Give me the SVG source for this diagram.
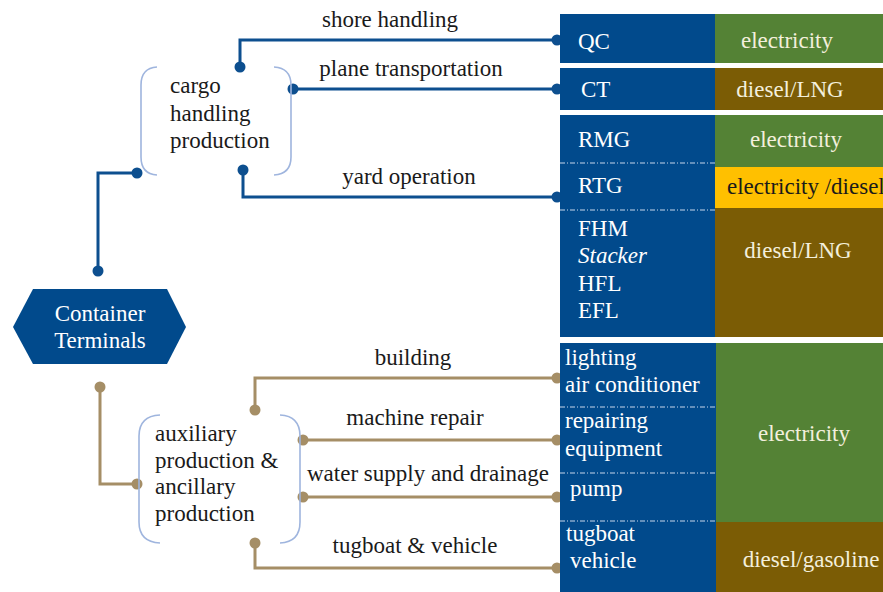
<svg xmlns="http://www.w3.org/2000/svg" width="883" height="592" viewBox="0 0 883 592">
<style>
text{font-family:"Liberation Serif","Times New Roman",serif;font-size:23px}
.lbl{fill:#1a1a1a}
.w{fill:#ffffff}
.cr{fill:#f3efdc}
.dk{fill:#1a1a1a}
.bl{fill:none;stroke:#0d4f8f;stroke-width:3}
.tn{fill:none;stroke:#a58e66;stroke-width:3}
.bd{fill:#0d4f8f}
.td{fill:#a58e66}
.br{fill:none;stroke:#9fb5de;stroke-width:1.6}
.cb{fill:#014a8c}
.cg{fill:#548235}
.cn{fill:#7b5c05}
.cy{fill:#ffc000}
.dash{stroke:#c9d6ea;stroke-width:1;stroke-dasharray:5 2 1 2}
</style>
<g id="connectors">
<path class="bl" d="M98,271 V173 H137"/>
<path class="bl" d="M240,67 V40 H557"/>
<path class="bl" d="M293,89 H557"/>
<path class="bl" d="M243,170 V197 H557"/>
<circle class="bd" cx="98" cy="271" r="5.5"/>
<circle class="bd" cx="137" cy="173" r="5.5"/>
<circle class="bd" cx="240" cy="67" r="5.5"/>
<circle class="bd" cx="293" cy="89" r="5.5"/>
<circle class="bd" cx="243" cy="170" r="5.5"/>
<circle class="bd" cx="557" cy="40" r="5.5"/>
<circle class="bd" cx="557" cy="89" r="5.5"/>
<circle class="bd" cx="557" cy="197" r="5.5"/>
<path class="tn" d="M100,387 V484 H137"/>
<path class="tn" d="M255,410 V378 H557"/>
<path class="tn" d="M303,440 H557"/>
<path class="tn" d="M303,497 H557"/>
<path class="tn" d="M255,543 V568 H557"/>
<circle class="td" cx="100" cy="387" r="5.5"/>
<circle class="td" cx="137" cy="484" r="5.5"/>
<circle class="td" cx="255" cy="410" r="5.5"/>
<circle class="td" cx="303" cy="440" r="5.5"/>
<circle class="td" cx="303" cy="497" r="5.5"/>
<circle class="td" cx="255" cy="543" r="5.5"/>
<circle class="td" cx="557" cy="378" r="5.5"/>
<circle class="td" cx="557" cy="440" r="5.5"/>
<circle class="td" cx="557" cy="497" r="5.5"/>
<circle class="td" cx="557" cy="568" r="5.5"/>
<text class="lbl" x="390" y="27" text-anchor="middle">shore handling</text>
<text class="lbl" x="411" y="76" text-anchor="middle">plane  transportation</text>
<text class="lbl" x="409" y="184" text-anchor="middle">yard operation</text>
<text class="lbl" x="413" y="365" text-anchor="middle">building</text>
<text class="lbl" x="415" y="425" text-anchor="middle">machine repair</text>
<text class="lbl" x="428" y="481" text-anchor="middle">water supply and drainage</text>
<text class="lbl" x="415" y="553" text-anchor="middle">tugboat &amp; vehicle</text>
</g>
<g id="container-terminals">
<polygon class="cb" points="13,327 33,289 167,289 186,327 167,364 33,364"/>
<text class="w" x="100" y="321" text-anchor="middle">Container</text>
<text class="w" x="100" y="348" text-anchor="middle">Terminals</text>
</g>
<g id="cargo-handling">
<path class="br" d="M157,67 Q141,68 141,85 V157 Q141,174 157,175"/>
<path class="br" d="M274,67 Q291,68 291,85 V157 Q291,174 274,175"/>
<text class="lbl" x="170" y="93">cargo</text>
<text class="lbl" x="170" y="121">handling</text>
<text class="lbl" x="170" y="148">production</text>
</g>
<g id="auxiliary">
<path class="br" d="M160,415 Q139,416 139,436 V522 Q139,542 160,543"/>
<path class="br" d="M280,415 Q300,416 300,436 V522 Q300,542 280,543"/>
<text class="lbl" x="155" y="441">auxiliary</text>
<text class="lbl" x="155" y="468">production &amp;</text>
<text class="lbl" x="155" y="494">ancillary</text>
<text class="lbl" x="155" y="521">production</text>
</g>
<g id="row-qc">
<rect class="cb" x="560" y="14" width="155" height="49"/>
<rect class="cg" x="715" y="14" width="168" height="49"/>
<text class="w" x="578" y="49">QC</text>
<text class="cr" x="787" y="48" text-anchor="middle">electricity</text>
</g>
<g id="row-ct">
<rect class="cb" x="560" y="68" width="155" height="42"/>
<rect class="cn" x="715" y="68" width="168" height="42"/>
<text class="w" x="581" y="97">CT</text>
<text class="cr" x="790" y="97" text-anchor="middle">diesel/LNG</text>
</g>
<g id="row-yard">
<rect class="cb" x="560" y="115" width="155" height="222"/>
<rect class="cg" x="715" y="115" width="168" height="52"/>
<rect class="cy" x="715" y="167" width="168" height="41"/>
<rect class="cn" x="715" y="208" width="168" height="129"/>
<line class="dash" x1="560" y1="163" x2="715" y2="163"/>
<line class="dash" x1="560" y1="210" x2="715" y2="210"/>
<text class="w" x="578" y="147">RMG</text>
<text class="w" x="578" y="193">RTG</text>
<text class="w" x="578" y="236">FHM</text>
<text class="w" x="578" y="263" font-style="italic">Stacker</text>
<text class="w" x="578" y="291">HFL</text>
<text class="w" x="578" y="318">EFL</text>
<text class="cr" x="796" y="147" text-anchor="middle">electricity</text>
<text class="dk" x="727" y="194">electricity /diesel</text>
<text class="cr" x="798" y="258" text-anchor="middle">diesel/LNG</text>
</g>
<g id="row-auxiliary">
<rect class="cb" x="560" y="343" width="156" height="249"/>
<rect class="cg" x="716" y="343" width="167" height="179"/>
<rect class="cn" x="716" y="522" width="167" height="70"/>
<line class="dash" x1="560" y1="407" x2="716" y2="407"/>
<line class="dash" x1="560" y1="473" x2="716" y2="473"/>
<line class="dash" x1="560" y1="521" x2="716" y2="521"/>
<text class="w" x="565" y="365">lighting</text>
<text class="w" x="565" y="392">air conditioner</text>
<text class="w" x="565" y="428">repairing</text>
<text class="w" x="565" y="456">equipment</text>
<text class="w" x="570" y="496">pump</text>
<text class="w" x="566" y="541">tugboat</text>
<text class="w" x="570" y="568">vehicle</text>
<text class="cr" x="804" y="441" text-anchor="middle">electricity</text>
<text class="cr" x="811" y="567" text-anchor="middle">diesel/gasoline</text>
</g>
</svg>
